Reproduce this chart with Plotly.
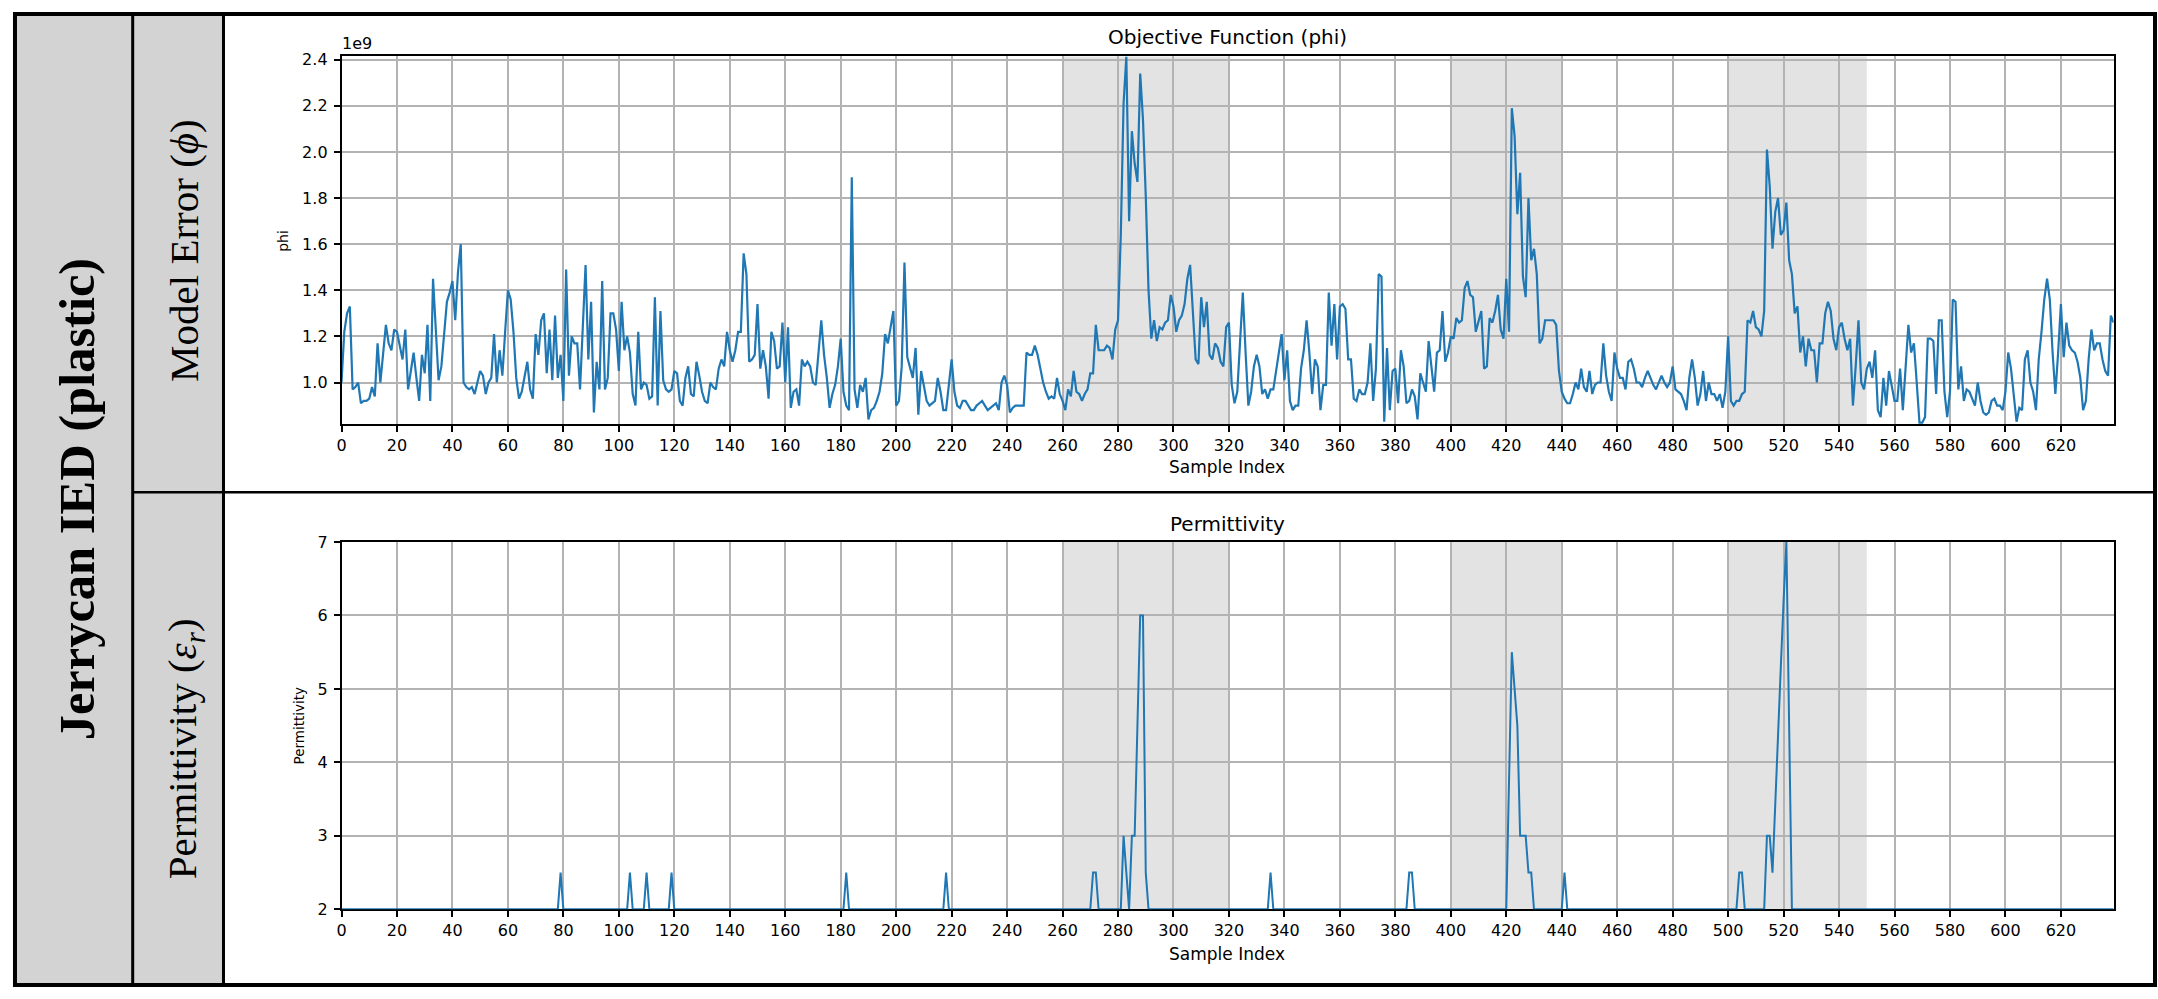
import plotly.graph_objects as go

W, H = 2158, 999

# ---------------- data ----------------
sample_index = list(range(640))

# Objective function phi, in units of 1e9
phi_e9 = [
    1.00, 1.22, 1.30, 1.33, 0.97, 0.98, 1.00, 0.91, 0.92, 0.92,
    0.93, 0.98, 0.94, 1.17, 1.00, 1.13, 1.25, 1.17, 1.14, 1.23,
    1.22, 1.16, 1.10, 1.23, 0.97, 1.05, 1.13, 1.02, 0.92, 1.12,
    1.04, 1.25, 0.92, 1.45, 1.22, 1.01, 1.07, 1.22, 1.35, 1.39,
    1.44, 1.27, 1.48, 1.60, 1.00, 0.98, 0.97, 0.98, 0.95, 1.00,
    1.05, 1.03, 0.95, 1.00, 1.02, 1.21, 1.00, 1.14, 1.03, 1.22,
    1.40, 1.36, 1.22, 1.02, 0.93, 0.96, 1.02, 1.09, 0.97, 0.93,
    1.21, 1.12, 1.27, 1.30, 1.04, 1.23, 1.01, 1.29, 1.02, 1.12,
    0.92, 1.49, 1.03, 1.20, 1.17, 1.17, 0.97, 1.22, 1.51, 1.10,
    1.35, 0.87, 1.09, 0.97, 1.44, 0.97, 1.02, 1.30, 1.30, 1.23,
    1.05, 1.35, 1.14, 1.20, 1.13, 0.95, 0.90, 1.22, 0.97, 1.00,
    0.99, 0.93, 0.94, 1.37, 0.90, 1.31, 1.01, 0.97, 0.96, 0.97,
    1.05, 1.04, 0.92, 0.90, 1.02, 1.07, 0.95, 0.94, 1.09, 1.03,
    0.96, 0.92, 0.91, 1.00, 0.98, 0.97, 1.06, 1.10, 1.07, 1.22,
    1.14, 1.09, 1.14, 1.22, 1.22, 1.56, 1.47, 1.09, 1.10, 1.12,
    1.34, 1.06, 1.14, 1.07, 0.93, 1.22, 1.18, 1.06, 1.07, 1.26,
    1.00, 1.24, 0.89, 0.96, 0.97, 0.90, 1.10, 1.07, 1.09, 1.07,
    1.00, 0.99, 1.14, 1.27, 1.12, 1.02, 0.89, 0.95, 0.99, 1.07,
    1.19, 0.96, 0.90, 0.88, 1.89, 0.97, 0.89, 0.99, 0.96, 1.02,
    0.84, 0.88, 0.89, 0.92, 0.96, 1.04, 1.21, 1.17, 1.24, 1.31,
    0.90, 0.92, 1.07, 1.52, 1.11, 1.07, 1.02, 1.15, 0.86, 1.05,
    0.99, 0.92, 0.90, 0.91, 0.92, 1.02, 0.96, 0.88, 0.88, 0.99,
    1.10, 0.96, 0.90, 0.89, 0.92, 0.92, 0.90, 0.88, 0.88, 0.90,
    0.91, 0.92, 0.90, 0.88, 0.89, 0.90, 0.91, 0.88, 1.00, 1.03,
    0.99, 0.87, 0.89, 0.90, 0.90, 0.90, 0.90, 1.13, 1.12, 1.12,
    1.16, 1.12, 1.06, 1.00, 0.96, 0.93, 0.94, 0.93, 1.02, 0.95,
    0.92, 0.88, 0.97, 0.94, 1.05, 0.96, 0.95, 0.92, 0.95, 0.97,
    1.04, 1.04, 1.25, 1.14, 1.14, 1.14, 1.16, 1.15, 1.10, 1.23,
    1.27, 1.64, 2.21, 2.414, 1.70, 2.09, 1.95, 1.87, 2.34, 2.14,
    1.81, 1.40, 1.19, 1.27, 1.18, 1.24, 1.23, 1.26, 1.27, 1.38,
    1.33, 1.22, 1.27, 1.29, 1.34, 1.45, 1.51, 1.29, 1.10, 1.08,
    1.37, 1.24, 1.35, 1.12, 1.10, 1.17, 1.15, 1.09, 1.07, 1.24,
    1.26, 0.99, 0.91, 0.96, 1.17, 1.39, 1.13, 0.90, 0.96, 1.07,
    1.12, 1.07, 0.95, 0.97, 0.93, 0.97, 0.97, 1.06, 1.13, 1.21,
    1.01, 1.14, 0.92, 0.88, 0.90, 0.90, 1.06, 1.14, 1.27, 1.13,
    0.95, 1.10, 1.07, 0.88, 0.99, 0.99, 1.39, 1.16, 1.34, 1.10,
    1.33, 1.34, 1.32, 1.10, 1.10, 0.93, 0.92, 0.97, 0.95, 0.95,
    1.00, 1.17, 0.92, 1.06, 1.47, 1.46, 0.83, 1.15, 0.88, 1.05,
    1.06, 0.91, 1.14, 1.07, 0.91, 0.92, 0.97, 0.94, 0.84, 1.04,
    1.00, 0.96, 1.18, 1.06, 0.96, 1.13, 1.14, 1.31, 1.09, 1.13,
    1.20, 1.19, 1.28, 1.26, 1.27, 1.41, 1.44, 1.38, 1.37, 1.22,
    1.27, 1.31, 1.06, 1.07, 1.28, 1.26, 1.31, 1.38, 1.23, 1.19,
    1.45, 1.22, 2.19, 2.07, 1.73, 1.91, 1.46, 1.37, 1.80, 1.53,
    1.58, 1.47, 1.17, 1.19, 1.27, 1.27, 1.27, 1.27, 1.25, 1.05,
    0.96, 0.93, 0.91, 0.91, 0.95, 1.00, 0.97, 1.06, 0.98, 0.96,
    1.05, 0.95, 0.99, 1.00, 1.00, 1.17, 1.03, 0.96, 0.92, 1.13,
    1.06, 1.02, 1.02, 0.97, 1.09, 1.10, 1.06, 1.00, 1.00, 0.98,
    1.02, 1.05, 1.02, 0.99, 0.97, 1.00, 1.03, 1.00, 0.98, 1.00,
    1.07, 0.97, 0.96, 0.95, 0.92, 0.88, 1.02, 1.10, 1.02, 0.90,
    0.95, 1.05, 0.92, 1.00, 0.95, 0.95, 0.92, 0.95, 0.89, 0.96,
    1.20, 0.92, 0.90, 0.92, 0.92, 0.95, 0.96, 1.27, 1.26, 1.31,
    1.24, 1.23, 1.20, 1.31, 2.01, 1.85, 1.58, 1.74, 1.80, 1.64,
    1.66, 1.78, 1.53, 1.47, 1.30, 1.33, 1.13, 1.20, 1.07, 1.19,
    1.14, 1.14, 1.00, 1.17, 1.17, 1.30, 1.35, 1.31, 1.19, 1.14,
    1.24, 1.26, 1.19, 1.14, 1.19, 0.90, 1.07, 1.27, 1.00, 0.97,
    1.06, 1.09, 1.02, 1.14, 0.88, 0.85, 1.02, 0.90, 1.05, 0.99,
    0.92, 0.92, 1.06, 0.88, 1.09, 1.25, 1.13, 1.17, 1.00, 0.826,
    0.826, 0.85, 1.19, 1.19, 1.18, 0.95, 1.27, 1.27, 0.96, 0.85,
    0.96, 1.36, 1.35, 0.97, 1.07, 0.92, 0.97, 0.96, 0.93, 0.90,
    1.00, 0.92, 0.87, 0.86, 0.87, 0.92, 0.93, 0.90, 0.90, 0.88,
    0.96, 1.13, 1.06, 0.93, 0.83, 0.89, 0.88, 1.10, 1.14, 1.00,
    0.96, 0.88, 1.10, 1.22, 1.36, 1.45, 1.36, 1.13, 0.95, 1.13,
    1.34, 1.11, 1.26, 1.16, 1.14, 1.13, 1.09, 1.02, 0.88, 0.92,
    1.10, 1.23, 1.14, 1.17, 1.17, 1.10, 1.05, 1.03, 1.29, 1.26,
]

permittivity = [
    2, 2, 2, 2, 2, 2, 2, 2, 2, 2, 2, 2, 2, 2, 2, 2, 2, 2, 2, 2,          # 0
    2, 2, 2, 2, 2, 2, 2, 2, 2, 2, 2, 2, 2, 2, 2, 2, 2, 2, 2, 2,          # 20
    2, 2, 2, 2, 2, 2, 2, 2, 2, 2, 2, 2, 2, 2, 2, 2, 2, 2, 2, 2,          # 40
    2, 2, 2, 2, 2, 2, 2, 2, 2, 2, 2, 2, 2, 2, 2, 2, 2, 2, 2, 2.5,        # 60
    2, 2, 2, 2, 2, 2, 2, 2, 2, 2, 2, 2, 2, 2, 2, 2, 2, 2, 2, 2,          # 80
    2, 2, 2, 2, 2.5, 2, 2, 2, 2, 2, 2.5, 2, 2, 2, 2, 2, 2, 2, 2, 2.5,    # 100
    2, 2, 2, 2, 2, 2, 2, 2, 2, 2, 2, 2, 2, 2, 2, 2, 2, 2, 2, 2,          # 120
    2, 2, 2, 2, 2, 2, 2, 2, 2, 2, 2, 2, 2, 2, 2, 2, 2, 2, 2, 2,          # 140
    2, 2, 2, 2, 2, 2, 2, 2, 2, 2, 2, 2, 2, 2, 2, 2, 2, 2, 2, 2,          # 160
    2, 2, 2.5, 2, 2, 2, 2, 2, 2, 2, 2, 2, 2, 2, 2, 2, 2, 2, 2, 2,        # 180
    2, 2, 2, 2, 2, 2, 2, 2, 2, 2, 2, 2, 2, 2, 2, 2, 2, 2, 2.5, 2,        # 200
    2, 2, 2, 2, 2, 2, 2, 2, 2, 2, 2, 2, 2, 2, 2, 2, 2, 2, 2, 2,          # 220
    2, 2, 2, 2, 2, 2, 2, 2, 2, 2, 2, 2, 2, 2, 2, 2, 2, 2, 2, 2,          # 240
    2, 2, 2, 2, 2, 2, 2, 2, 2, 2, 2, 2.5, 2.5, 2, 2, 2, 2, 2, 2, 2,      # 260
    2, 2, 3, 2.5, 2, 3, 3, 4.5, 6, 6, 2.5, 2, 2, 2, 2, 2, 2, 2, 2, 2,    # 280
    2, 2, 2, 2, 2, 2, 2, 2, 2, 2, 2, 2, 2, 2, 2, 2, 2, 2, 2, 2,          # 300
    2, 2, 2, 2, 2, 2, 2, 2, 2, 2, 2, 2, 2, 2, 2, 2.5, 2, 2, 2, 2,        # 320
    2, 2, 2, 2, 2, 2, 2, 2, 2, 2, 2, 2, 2, 2, 2, 2, 2, 2, 2, 2,          # 340
    2, 2, 2, 2, 2, 2, 2, 2, 2, 2, 2, 2, 2, 2, 2, 2, 2, 2, 2, 2,          # 360
    2, 2, 2, 2, 2, 2.5, 2.5, 2, 2, 2, 2, 2, 2, 2, 2, 2, 2, 2, 2, 2,      # 380
    2, 2, 2, 2, 2, 2, 2, 2, 2, 2, 2, 2, 2, 2, 2, 2, 2, 2, 2, 2,          # 400
    2, 3.75, 5.5, 5.0, 4.5, 3, 3, 3, 2.5, 2.5, 2, 2, 2, 2, 2, 2, 2, 2, 2, 2,  # 420
    2, 2.5, 2, 2, 2, 2, 2, 2, 2, 2, 2, 2, 2, 2, 2, 2, 2, 2, 2, 2,        # 440
    2, 2, 2, 2, 2, 2, 2, 2, 2, 2, 2, 2, 2, 2, 2, 2, 2, 2, 2, 2,          # 460
    2, 2, 2, 2, 2, 2, 2, 2, 2, 2, 2, 2, 2, 2, 2, 2, 2, 2, 2, 2,          # 480
    2, 2, 2, 2, 2.5, 2.5, 2, 2, 2, 2, 2, 2, 2, 2, 3, 3, 2.5, 3.5, 4.5, 5.3,  # 500
    6.2, 7, 4.5, 2, 2, 2, 2, 2, 2, 2, 2, 2, 2, 2, 2, 2, 2, 2, 2, 2,      # 520
    2, 2, 2, 2, 2, 2, 2, 2, 2, 2, 2, 2, 2, 2, 2, 2, 2, 2, 2, 2,          # 540
    2, 2, 2, 2, 2, 2, 2, 2, 2, 2, 2, 2, 2, 2, 2, 2, 2, 2, 2, 2,          # 560
    2, 2, 2, 2, 2, 2, 2, 2, 2, 2, 2, 2, 2, 2, 2, 2, 2, 2, 2, 2,          # 580
    2, 2, 2, 2, 2, 2, 2, 2, 2, 2, 2, 2, 2, 2, 2, 2, 2, 2, 2, 2,          # 600
    2, 2, 2, 2, 2, 2, 2, 2, 2, 2, 2, 2, 2, 2, 2, 2, 2, 2, 2, 2,          # 620
]

shaded_ranges = [(260, 320), (400, 440), (500, 550)]
x_ticks = [0, 20, 40, 60, 80, 100, 120, 140, 160, 180, 200, 220, 240, 260, 280, 300,
           320, 340, 360, 380, 400, 420, 440, 460, 480, 500, 520, 540, 560, 580, 600, 620]
phi_ticks = [1.0, 1.2, 1.4, 1.6, 1.8, 2.0, 2.2, 2.4]
perm_ticks = [2, 3, 4, 5, 6, 7]

row_label = "Jerrycan IED (plastic)"
top_label = "Model Error (<i>ϕ</i>)"
bottom_label = "Permittivity (<i>ε<sub>r</sub></i>)"

# ---------------- helpers (pixel -> paper) ----------------
def px(x):
    return x / W

def py(y):
    return 1 - y / H

BLUE = "#1f77b4"
GRID = "#b3b3b3"
SHADE = "#e3e3e3"
CELL = "#d3d3d3"
TICKFONT = dict(family="DejaVu Sans", size=16, color="black")

fig = go.Figure()
fig.add_trace(go.Scatter(x=sample_index, y=phi_e9, mode="lines",
                         line=dict(color=BLUE, width=2.2), xaxis="x", yaxis="y",
                         hoverinfo="skip", showlegend=False))
fig.add_trace(go.Scatter(x=sample_index, y=permittivity, mode="lines",
                         line=dict(color=BLUE, width=2), xaxis="x2", yaxis="y2",
                         hoverinfo="skip", showlegend=False))

X_DOM = [px(337.3), px(2113.5)]
TOP_DOM = [py(423.3), py(48.3)]
BOT_DOM = [py(917.8), py(543.3)]

axis_common = dict(showline=True, linecolor="black", linewidth=1.5, mirror=True,
                   ticks="outside", ticklen=6, tickwidth=1.5, tickcolor="black",
                   showgrid=True, gridcolor=GRID, gridwidth=1.5, zeroline=False,
                   tickfont=TICKFONT)

fig.update_layout(
    width=W, height=H, autosize=False,
    margin=dict(l=0, r=0, t=0, b=0, pad=0),
    paper_bgcolor="white", plot_bgcolor="white",
    showlegend=False,
    xaxis=dict(domain=X_DOM, range=[0, 639], tickvals=x_ticks, anchor="y", **axis_common),
    yaxis=dict(domain=TOP_DOM, range=[0.819, 2.4145], tickvals=phi_ticks,
               tickformat=".1f", anchor="x", ticklabelstandoff=3, **axis_common),
    xaxis2=dict(domain=X_DOM, range=[0, 639], tickvals=x_ticks, anchor="y2",
                layer="below traces", **axis_common),
    yaxis2=dict(domain=BOT_DOM, range=[2, 7], tickvals=perm_ticks, anchor="x2",
                ticklabelstandoff=3, **axis_common),
)

shapes = []
# shaded sample ranges in both plots
for (a, b) in shaded_ranges:
    for xr, yr in (("x", "y domain"), ("x2", "y2 domain")):
        shapes.append(dict(type="rect", xref=xr, yref=yr, x0=a, x1=b, y0=0, y1=1,
                           fillcolor=SHADE, line=dict(width=0), layer="below"))

# table cells
shapes.append(dict(type="rect", xref="paper", yref="paper", x0=px(10), x1=px(219),
                   y0=py(995), y1=py(5), fillcolor=CELL, line=dict(width=0), layer="below"))
# table lines
LINE = dict(color="black", width=3)
shapes.append(dict(type="rect", xref="paper", yref="paper", x0=px(10), x1=px(2155),
                   y0=py(995), y1=py(5), line=dict(color="black", width=4), layer="above"))
shapes.append(dict(type="line", xref="paper", yref="paper", x0=px(128), x1=px(128),
                   y0=py(995), y1=py(5), line=LINE, layer="above"))
shapes.append(dict(type="line", xref="paper", yref="paper", x0=px(219), x1=px(219),
                   y0=py(995), y1=py(5), line=LINE, layer="above"))
shapes.append(dict(type="line", xref="paper", yref="paper", x0=px(128), x1=px(2155),
                   y0=py(492.5), y1=py(492.5), line=dict(color="black", width=2.5), layer="above"))
fig.update_layout(shapes=shapes)

ann = []
def add_text(text, x, y, size, family="DejaVu Sans", angle=0, xanchor="center",
             weight="normal"):
    ann.append(dict(text=text, x=px(x), y=py(y), xref="paper", yref="paper",
                    showarrow=False, textangle=angle, xanchor=xanchor, yanchor="middle",
                    font=dict(family=family, size=size, color="black", weight=weight)))

# plot texts
add_text("Objective Function (phi)", 1225, 29, 20)
add_text("1e9", 336, 35, 16, xanchor="left")
add_text("Sample Index", 1225, 467, 17)
add_text("phi", 278, 236, 14, angle=-90)
add_text("Permittivity", 1225, 525, 20)
add_text("Sample Index", 1225, 963, 17)
add_text("Permittivity", 295, 730, 13.5, angle=-90)

# table texts
add_text(row_label, 73, 500, 50.5, family="Liberation Serif", angle=-90, weight="bold")
add_text(top_label, 180, 246, 41, family="Liberation Serif", angle=-90)
add_text(bottom_label, 180, 754, 41, family="Liberation Serif", angle=-90)

fig.update_layout(annotations=ann)

fig.write_html("out.html")
